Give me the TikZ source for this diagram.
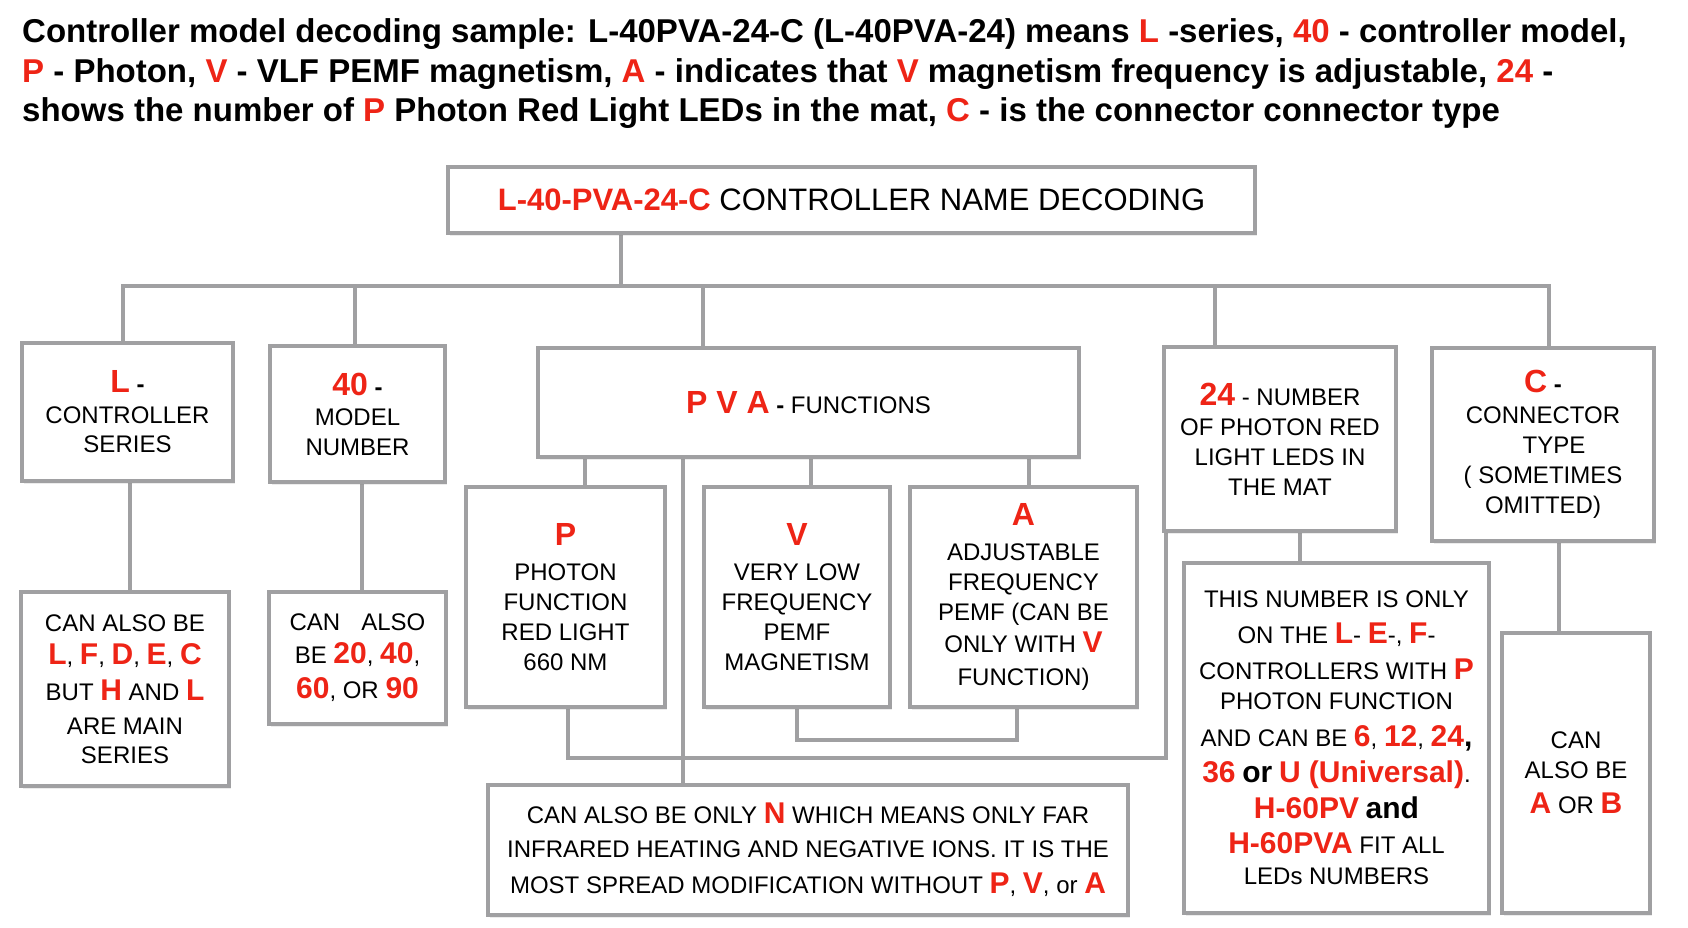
\documentclass[tikz,border=0pt]{standalone}
\usepackage{fontspec}
\setmainfont{Liberation Sans}
\usetikzlibrary{shadows}
\definecolor{myred}{RGB}{238,36,22}
\definecolor{lgray}{RGB}{160,160,162}
\pgfdeclarelayer{back}
\pgfdeclarelayer{bg}
\pgfsetlayers{back,bg,main}
\newcommand{\rdb}[1]{{\fontsize{32}{32}\selectfont\bfseries\color{myred}#1}}
\newcommand{\rds}[1]{{\fontsize{30}{30}\selectfont\bfseries\color{myred}#1}}
\newcommand{\bks}[1]{{\fontsize{30}{30}\selectfont\bfseries #1}}
\newcommand{\rt}[1]{\textcolor{myred}{#1}}
\begin{document}
\begin{tikzpicture}[x=1pt,y=-1pt,
  box/.style={draw=lgray, line width=4.5pt, fill=white, inner sep=0pt, align=center,
    font=\fontsize{24}{30}\selectfont,
    drop shadow={shadow xshift=2pt,shadow yshift=-3pt,opacity=0.15}},
  conn/.style={draw=lgray, line width=4.5pt},
  ttl/.style={anchor=base west, inner sep=0pt, font=\fontsize{33}{39}\selectfont\bfseries}]
\begin{pgfonlayer}{back}
\fill[white] (0,0) rectangle (1688,928);
\end{pgfonlayer}
\useasboundingbox (0,0) rectangle (1688,928);

% title
\node[ttl] (t1) at (22,43) {Controller model decoding sample: L-40PVA-24-C (L-40PVA-24) means \rt{L} -series, \rt{40} - controller model,};
\node[ttl] (t2) at (22,82.5) {\rt{P} - Photon, \rt{V} - VLF PEMF magnetism, \rt{A} - indicates that \rt{V} magnetism frequency is adjustable, \rt{24} -};
\node[ttl] (t3) at (22,122) {shows the number of \rt{P} Photon Red Light LEDs in the mat, \rt{C} - is the connector connector type};

% boxes
\node[box, minimum width=807pt, minimum height=66pt, font=\fontsize{31}{31}\selectfont] (top) at (851.5,200)
  {{\bfseries\color{myred}L-40-PVA-24-C} CONTROLLER NAME DECODING};

\node[box, minimum width=211pt, minimum height=138pt] (Lbox) at (127.5,412)
  {\rdb{L} \textbf{-}\\[1pt] CONTROLLER\\[-1pt] SERIES};
\node[box, minimum width=175pt, minimum height=136pt] (Mbox) at (357.5,414)
  {\rdb{40} \textbf{-}\\ MODEL\\ NUMBER};
\node[box, minimum width=541pt, minimum height=109pt] (PVA) at (808.5,402.5)
  {\rdb{P V A} \textbf{-} FUNCTIONS};
\node[box, minimum width=232pt, minimum height=184pt] (Nbox) at (1280,439)
  {\rdb{24} - NUMBER\\ OF PHOTON RED\\ LIGHT LEDS IN\\ THE MAT};
\node[box, minimum width=222pt, minimum height=193pt] (Cbox) at (1543,444.5)
  {\rdb{C} \textbf{-}\\[1pt] CONNECTOR\\ \hspace*{22pt}TYPE\\ ( SOMETIMES\\ OMITTED)};

\node[box, minimum width=208pt, minimum height=194pt] (Llow) at (125,689)
  {CAN ALSO BE\\[3pt] \rds{L}, \rds{F}, \rds{D}, \rds{E}, \rds{C}\\[6pt] BUT \rds{H} AND \rds{L}\\[4pt] ARE MAIN\\[-1pt] SERIES};
\node[box, minimum width=177pt, minimum height=132pt] (Mlow) at (357.5,658)
  {CAN\hspace{21pt}ALSO\\[3pt] BE \rds{20}, \rds{40},\\[5pt] \rds{60}, OR \rds{90}};

\node[box, minimum width=199pt, minimum height=220pt] (Pbox) at (565.5,597)
  {\rdb{P}\\[5pt] PHOTON\\ FUNCTION\\ RED LIGHT\\ 660 NM};
\node[box, minimum width=186pt, minimum height=220pt] (Vbox) at (797,597)
  {\rdb{V}\\[5pt] VERY LOW\\ FREQUENCY\\ PEMF\\ MAGNETISM};
\node[box, minimum width=227pt, minimum height=220pt] (Abox) at (1023.5,597)
  {\rdb{A}\\[5pt] ADJUSTABLE\\ FREQUENCY\\ PEMF (CAN BE\\[2pt] ONLY WITH \rds{V}\\[3pt] FUNCTION)};

\node[box, minimum width=305pt, minimum height=350pt] (This) at (1336.5,738)
  {THIS NUMBER IS ONLY\\[6pt]
   ON THE \rds{L}- \rds{E}-, \rds{F}-\\[6pt]
   CONTROLLERS WITH \rds{P}\\
   PHOTON FUNCTION\\[7pt]
   AND CAN BE \rds{6}, \rds{12}, \rds{24}\bks{,}\\[6pt]
   \rds{36} \bks{or} \rds{U (Universal)}.\\[6pt]
   \rds{H-60PV} \bks{and}\\[5pt]
   \rds{H-60PVA} FIT ALL\\[1pt]
   LEDs NUMBERS};
\node[box, minimum width=148pt, minimum height=280pt] (AB) at (1576,773)
  {CAN\\ ALSO BE\\[5pt] \rds{A} OR \rds{B}};

\node[box, minimum width=640pt, minimum height=130pt] (Nlow) at (808,850)
  {CAN ALSO BE ONLY \rds{N} WHICH MEANS ONLY FAR\\[4pt]
   INFRARED HEATING AND NEGATIVE IONS. IT IS THE\\[6pt]
   MOST SPREAD MODIFICATION WITHOUT \rds{P}, \rds{V}, or \rds{A}};

% connectors
\begin{pgfonlayer}{bg}
\coordinate (j0) at (621,286);
\coordinate (jL) at (123,286);
\coordinate (jM) at (355,286);
\coordinate (jP) at (703,286);
\coordinate (j24) at (1215,286);
\coordinate (jC) at (1549,286);
\draw[conn] (top.south -| j0) -- (j0);
\draw[conn] (Lbox.north -| jL) -- (jL) -- (jC) -- (Cbox.north -| jC);
\draw[conn] (jM) -- (Mbox.north -| jM);
\draw[conn] (jP) -- (PVA.north -| jP);
\draw[conn] (j24) -- (Nbox.north -| j24);

\coordinate (k1) at (130,500);
\coordinate (k2) at (362,500);
\draw[conn] (Lbox.south -| k1) -- (Llow.north -| k1);
\draw[conn] (Mbox.south -| k2) -- (Mlow.north -| k2);

\coordinate (p1) at (585,470);
\coordinate (p2) at (811,470);
\coordinate (p3) at (1029,470);
\coordinate (p4) at (683,470);
\draw[conn] (PVA.south -| p1) -- (Pbox.north -| p1);
\draw[conn] (PVA.south -| p2) -- (Vbox.north -| p2);
\draw[conn] (PVA.south -| p3) -- (Abox.north -| p3);
\draw[conn] (PVA.south -| p4) -- (Nlow.north -| p4);

\coordinate (q1) at (568,758);
\coordinate (q2) at (1166,758);
\draw[conn] (Pbox.south -| q1) -- (q1) -- (q2) -- (Nbox.south -| q2);

\coordinate (r1) at (797,740);
\coordinate (r2) at (1017,740);
\draw[conn] (Vbox.south -| r1) -- (r1) -- (r2) -- (Abox.south -| r2);

\coordinate (s1) at (1300,545);
\coordinate (s2) at (1559,590);
\draw[conn] (Nbox.south -| s1) -- (This.north -| s1);
\draw[conn] (Cbox.south -| s2) -- (AB.north -| s2);
\end{pgfonlayer}
\end{tikzpicture}
\end{document}
